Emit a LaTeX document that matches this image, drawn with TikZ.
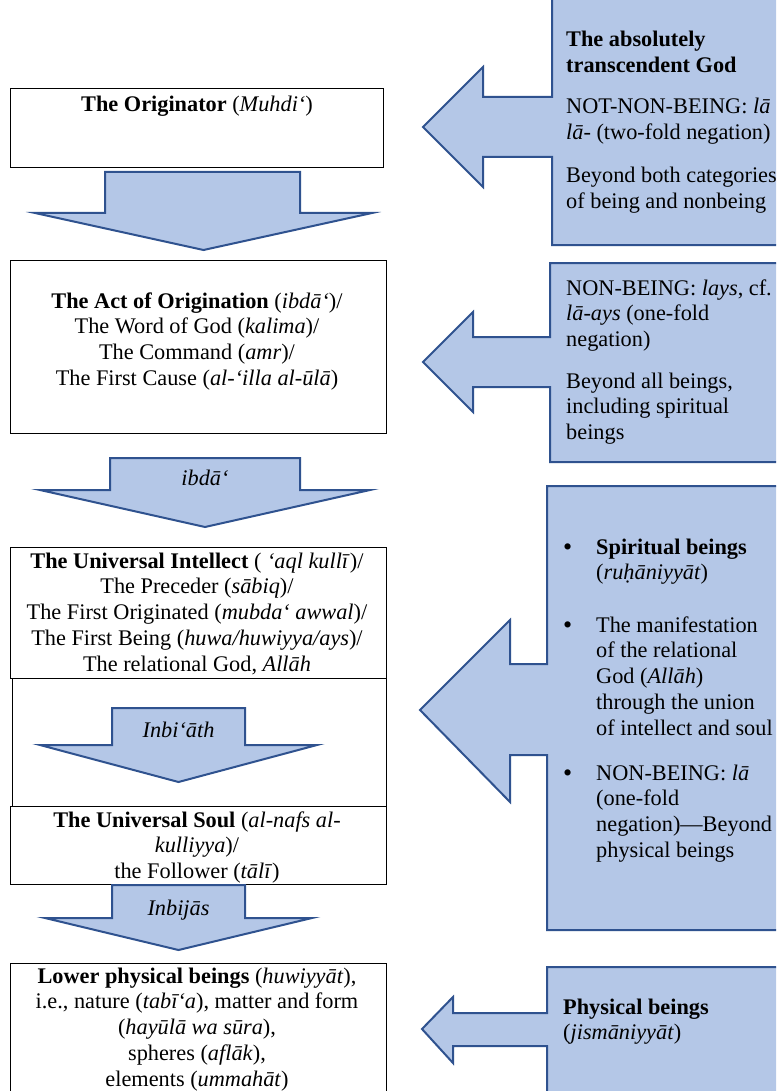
\documentclass[tikz,border=0pt]{standalone}
\usepackage{fontspec}
\setmainfont{Liberation Serif}
\definecolor{calfill}{HTML}{B4C7E7}
\definecolor{calline}{HTML}{2F528F}
\newcommand{\ctab}[1]{\begin{tabular}[t]{@{}c@{}}#1\end{tabular}}
\newcommand{\ltab}[1]{\begin{tabular}[t]{@{}l@{}}#1\end{tabular}}
\tikzset{
  whitebox/.style={draw=black, line width=1.2pt, fill=white, inner sep=0pt, anchor=north west},
  blk/.style={fill=calfill, draw=calline, line width=2pt, line join=miter},
  txt/.style={inner sep=0pt, font=\fontsize{22.3}{25.8}\selectfont, anchor=base},
  ltxt/.style={txt, anchor=base west},
  bul/.style={txt, anchor=base west, font=\fontsize{26}{25.8}\selectfont},
}
\begin{document}
\begin{tikzpicture}[x=1pt,y=-1pt]
\useasboundingbox (0,0) rectangle (776,1091);
\clip (0,0) rectangle (776,1091);
\fill[white] (0,0) rectangle (776,1091);

% ---------- right-hand callouts ----------
\path[blk] (552,-3) -- (790,-3) -- (790,245) -- (552,245) -- (552,157) -- (483,157) -- (483,187)
  -- (423,127) -- (483,67) -- (483,97) -- (552,97) -- cycle;
\path[blk] (550,263) -- (790,263) -- (790,462) -- (550,462) -- (550,387) -- (473,387) -- (473,412)
  -- (423,362) -- (473,312) -- (473,337) -- (550,337) -- cycle;
\path[blk] (547,486) -- (790,486) -- (790,930) -- (547,930) -- (547,755) -- (510,755) -- (510,802)
  -- (420,710) -- (510,620) -- (510,664) -- (547,664) -- cycle;
\path[blk] (547,967) -- (790,967) -- (790,1100) -- (547,1100) -- (547,1046) -- (453,1046) -- (453,1063)
  -- (422,1029) -- (453,997) -- (453,1013) -- (547,1013) -- cycle;

% callout texts
\node[ltxt] (c1a) at (566,47) {\ltab{\textbf{The absolutely}\\ \textbf{transcendent God}}};
\node[ltxt] (c1b) at (566,114) {\ltab{NOT-NON-BEING: \textit{lā}\\ \textit{lā}- (two-fold negation)}};
\node[ltxt] (c1c) at (566,183) {\ltab{Beyond both categories\\ of being and nonbeing}};

\node[ltxt] (c2a) at (566,295) {\ltab{NON-BEING: \textit{lays}, cf.\\ \textit{lā-ays} (one-fold\\ negation)}};
\node[ltxt] (c2b) at (566,388) {\ltab{Beyond all beings,\\ including spiritual\\ beings}};

\node[bul] (c3b1) at (563,555) {\textbullet};
\node[ltxt] (c3a) at (596,554) {\ltab{\textbf{Spiritual beings}\\ (\textit{ruḥāniyyāt})}};
\node[bul] (c3b2) at (563,633) {\textbullet};
\node[ltxt] (c3b) at (596,632) {\ltab{The manifestation\\ of the relational\\ God (\textit{Allāh})\\ through the union\\ of intellect and soul}};
\node[bul] (c3b3) at (563,781) {\textbullet};
\node[ltxt] (c3c) at (596,780) {\ltab{NON-BEING: \textit{lā}\\ (one-fold\\ negation)—Beyond\\ physical beings}};

\node[ltxt] (c4a) at (563,1014) {\ltab{\textbf{Physical beings}\\ (\textit{jismāniyyāt})}};

% ---------- left column ----------
% container behind intellect / soul
\node[draw=black, line width=1.2pt, inner sep=0pt, anchor=north west, minimum width=374pt, minimum height=194pt] (cont) at (12,612) {};

\node[whitebox, minimum width=373pt, minimum height=79pt] (b1) at (10,88) {};
\node[txt] (t1) at (197,112) {\textbf{The Originator} (\textit{Muhdi‘})};

\path[blk] (105,172) -- (300,172) -- (300,213) -- (372,213) -- (203.5,250) -- (35,213) -- (105,213) -- cycle;

\node[whitebox, minimum width=376pt, minimum height=173pt] (b2) at (10,260) {};
\node[txt] (t2) at (197,308) {\ctab{\textbf{The Act of Origination} (\textit{ibdā‘})/\\ The Word of God (\textit{kalima})/\\ The Command (\textit{amr})/\\ The First Cause (\textit{al-‘illa al-ūlā})}};

\path[blk] (110,458) -- (300,458) -- (300,490) -- (370,490) -- (205,527) -- (40,490) -- (110,490) -- cycle;
\node[txt] (l1) at (205,485) {\textit{ibdā‘}};

\node[whitebox, minimum width=376pt, minimum height=131pt] (b3) at (10,547) {};
\node[txt] (t3) at (197,568) {\ctab{\textbf{The Universal Intellect} ( \textit{‘aql kullī})/\\ The Preceder (\textit{sābiq})/\\ The First Originated (\textit{mubda‘ awwal})/\\ The First Being (\textit{huwa/huwiyya/ays})/\\ The relational God, \textit{Allāh}}};

\path[blk] (112,708) -- (245,708) -- (245,745) -- (317,745) -- (178.5,782) -- (40,745) -- (112,745) -- cycle;
\node[txt] (l2) at (178.5,737) {\textit{Inbi‘āth}};

\node[whitebox, minimum width=376pt, minimum height=78pt] (b4) at (10,806) {};
\node[txt] (t4) at (197,827) {\ctab{\textbf{The Universal Soul} (\textit{al-nafs al-}\\ \textit{kulliyya})/\\ the Follower (\textit{tālī})}};

\path[blk] (112,885) -- (245,885) -- (245,918) -- (312,918) -- (178.5,950) -- (45,918) -- (112,918) -- cycle;
\node[txt] (l3) at (178.5,915) {\textit{Inbijās}};

\node[whitebox, minimum width=376pt, minimum height=140pt] (b5) at (10,963) {};
\node[txt] (t5) at (197,983) {\ctab{\textbf{Lower physical beings} (\textit{huwiyyāt}),\\ i.e., nature (\textit{tabī‘a}), matter and form\\ (\textit{hayūlā wa sūra}),\\ spheres (\textit{aflāk}),\\ elements (\textit{ummahāt})}};
\end{tikzpicture}
\end{document}
